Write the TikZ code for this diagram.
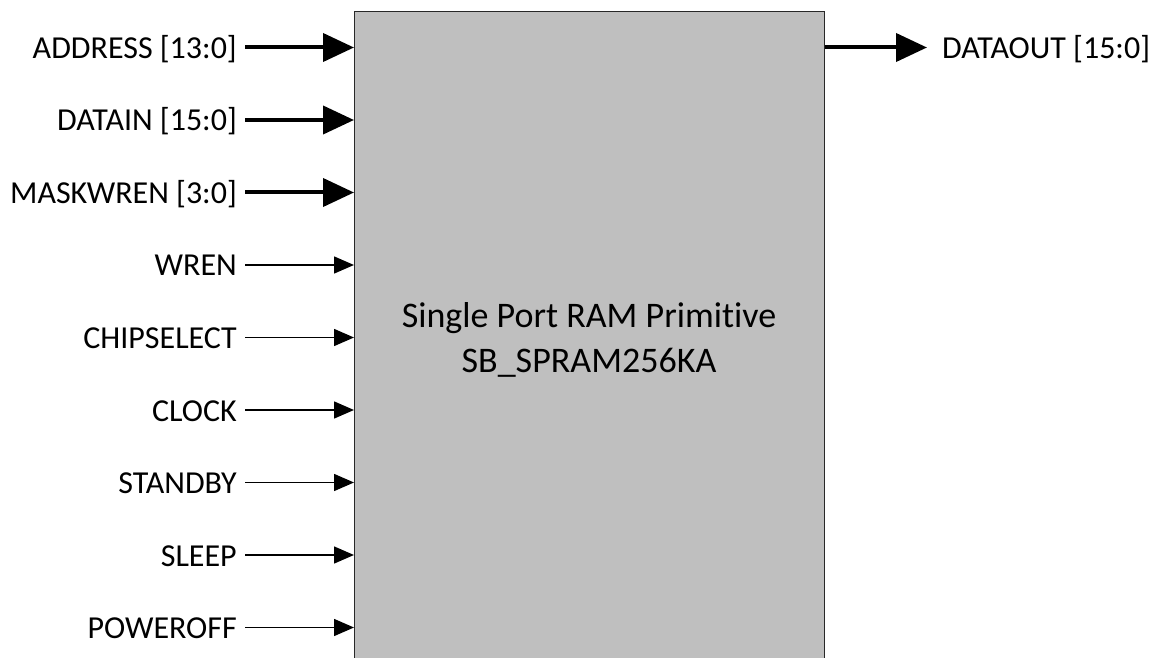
\documentclass[tikz,border=0pt]{standalone}
\usepackage{fontspec}
\setmainfont{Carlito}[Ligatures=CommonOff]
\usetikzlibrary{arrows.meta}
\definecolor{ramfill}{RGB}{191,191,191}
\definecolor{ramline}{RGB}{40,40,40}
\tikzset{
  ramblock/.style={draw=ramline, line width=1.3pt, fill=ramfill, inner sep=0pt},
  pinlabel/.style={inner ysep=0pt, text height=22pt, text depth=0pt, font=\fontsize{32}{38}\selectfont},
  inlabel/.style={pinlabel, anchor=east, inner xsep=8pt},
  outlabel/.style={pinlabel, anchor=west, inner xsep=15pt},
  titletext/.style={anchor=base, inner sep=0pt, font=\fontsize{36}{45}\selectfont},
  bus/.style={line width=4pt, -{Triangle[length=31pt,width=28pt]}},
  sig/.style={line width=1.5pt, -{Triangle[length=20pt,width=17pt]}}
}
\begin{document}
\begin{tikzpicture}[x=1pt,y=-1pt]
\useasboundingbox (0,0) rectangle (1163,658);
\node[ramblock, minimum width=470pt, minimum height=680pt, anchor=north west] (ram) at (354,11) {};
\node[titletext] (t1) at (589,327) {Single Port RAM Primitive};
\node[titletext] (t2) at (589,372) {SB\_SPRAM256KA};
% inputs
\node[inlabel] (addr) at (245,47.5) {ADDRESS [13:0]};
\node[inlabel] (din) at (245,120) {DATAIN [15:0]};
\node[inlabel] (mask) at (245,192.5) {MASKWREN [3:0]};
\node[inlabel] (wren) at (245,265) {WREN};
\node[inlabel] (cs) at (245,337.5) {CHIPSELECT};
\node[inlabel] (clk) at (245,410) {CLOCK};
\node[inlabel] (stby) at (245,482.5) {STANDBY};
\node[inlabel] (slp) at (245,555) {SLEEP};
\node[inlabel] (poff) at (245,627.5) {POWEROFF};
\foreach \n in {addr,din,mask}
  \draw[bus] (\n.east) -- (ram.west |- \n.east);
\foreach \n in {wren,cs,clk,stby,slp,poff}
  \draw[sig] (\n.east) -- (ram.west |- \n.east);
% output
\node[outlabel] (dout) at (927,47.5) {DATAOUT [15:0]};
\draw[bus] (ram.east |- dout.west) -- (dout.west);
\end{tikzpicture}
\end{document}
